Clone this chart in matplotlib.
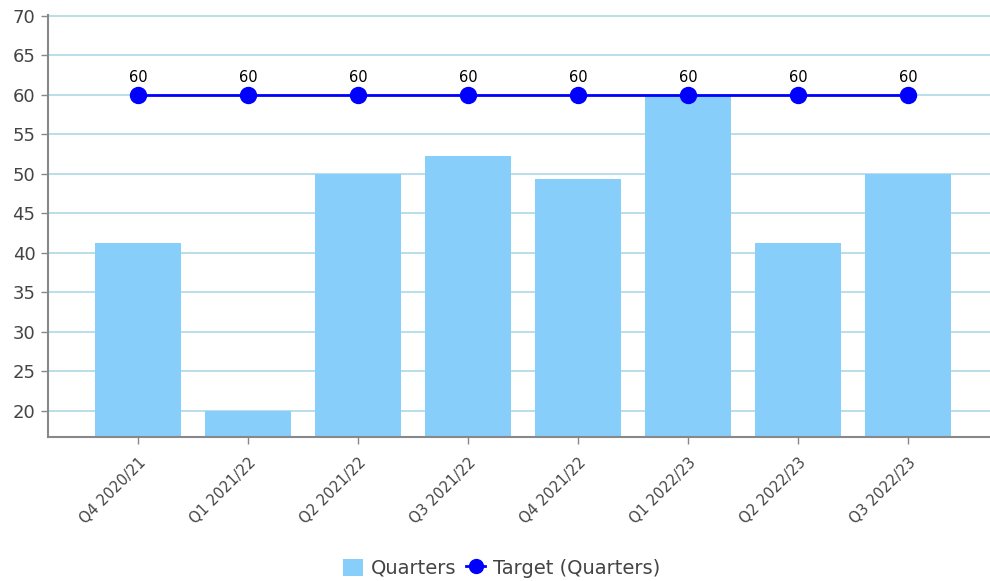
"""
Quarters vs target bar chart
"""
import numpy as np
import matplotlib.pyplot as plt
from matplotlib.lines import Line2D
from matplotlib.patches import Patch

QUARTERS = ['Q4 2020/21', 'Q1 2021/22', 'Q2 2021/22', 'Q3 2021/22',
            'Q4 2021/22', 'Q1 2022/23', 'Q2 2022/23', 'Q3 2022/23']
VALUES = [41.3, 20.0, 50.0, 52.2, 49.4, 60.0, 41.3, 50.0]
TARGET = [60, 60, 60, 60, 60, 60, 60, 60]

BAR_COLOR = '#87cefa'
LINE_COLOR = '#0000ff'
GRID_COLOR = '#add8e6'
AXIS_COLOR = '#888888'
TEXT_COLOR = '#444444'

FIG = plt.figure(figsize=(9.9, 5.81), dpi=100)
AX = FIG.add_axes([0.0485, 0.248, 0.9515, 0.726])

X_POS = np.arange(len(QUARTERS))

AX.bar(X_POS, VALUES, width=0.78, color=BAR_COLOR, zorder=2)
AX.plot(X_POS, TARGET, color=LINE_COLOR, linewidth=2, marker='o',
        markersize=11.5, zorder=3)

for x, t in zip(X_POS, TARGET):
    AX.annotate(str(t), (x, t), xytext=(0, 9.5), textcoords='offset points',
                ha='center', va='baseline', fontsize=10.5, color='black')

AX.set_xlim(-0.818, 7.745)
AX.set_ylim(16.7, 70.1)
AX.set_yticks(np.arange(20, 71, 5))
AX.yaxis.grid(True, color=GRID_COLOR, linewidth=1.2, zorder=0)
AX.set_axisbelow(True)

AX.set_xticks(X_POS)
AX.set_xticklabels(QUARTERS, rotation=45, ha='right', rotation_mode='anchor',
                   fontsize=10.5, color=TEXT_COLOR)
AX.tick_params(axis='y', labelsize=13, labelcolor=TEXT_COLOR, color=AXIS_COLOR,
               length=5, width=1, pad=4)
AX.tick_params(axis='x', color=AXIS_COLOR, length=5, width=1, pad=8)

for side in ['top', 'right']:
    AX.spines[side].set_visible(False)
for side in ['left', 'bottom']:
    AX.spines[side].set_color(AXIS_COLOR)
    AX.spines[side].set_linewidth(1.5)

HANDLES = [Patch(facecolor=BAR_COLOR, label='Quarters'),
           Line2D([0], [0], color=LINE_COLOR, linewidth=2, marker='o',
                  markersize=10, label='Target (Quarters)')]
FIG.legend(handles=HANDLES, loc='center', bbox_to_anchor=(0.507, 0.022),
           ncol=2, frameon=False, fontsize=14, handlelength=1.0,
           handleheight=1.0, handletextpad=0.4, columnspacing=0.5,
           labelcolor=TEXT_COLOR)

FIG.savefig('out.png', dpi=100)
